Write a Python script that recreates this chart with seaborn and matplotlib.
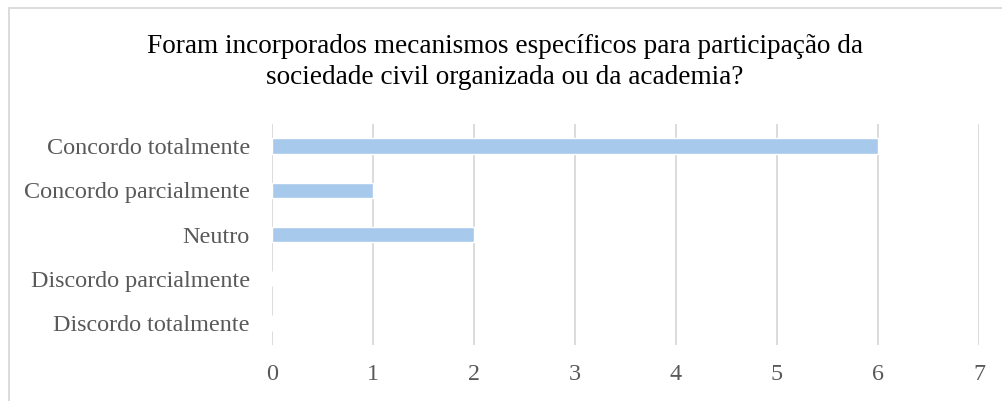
import matplotlib
matplotlib.use("Agg")
import matplotlib.pyplot as plt
import seaborn as sns
import pandas as pd
from matplotlib.patches import Rectangle

categories = ["Concordo totalmente", "Concordo parcialmente", "Neutro",
              "Discordo parcialmente", "Discordo totalmente"]
values = [6, 1, 2, 0, 0]
xticks = [0, 1, 2, 3, 4, 5, 6, 7]
title = ("Foram incorporados mecanismos específicos para participação da\n"
         "sociedade civil organizada ou da academia?")

df = pd.DataFrame({"categoria": categories, "valor": values})

sns.set_theme(style="white")
plt.rcParams['font.family'] = ['Liberation Serif', 'DejaVu Serif']

fig = plt.figure(figsize=(10.03, 4.01), dpi=100)
W, H = 1003, 401
ax = fig.add_axes([272 / W, 1 - 345 / H, (979 - 272) / W, (345 - 124) / H])

sns.barplot(data=df, x="valor", y="categoria", orient="h", color="#A6C9EC",
            saturation=1, width=0.35, ax=ax)

ax.set_xlim(0, 7)
ax.set_xticks(xticks)
ax.set_xticklabels([str(t) for t in xticks])
ax.set_xlabel("")
ax.set_ylabel("")
ax.grid(axis="x", color="#D9D9D9", linewidth=1.3)
ax.set_axisbelow(True)
for s in ax.spines.values():
    s.set_visible(False)
ax.tick_params(axis="both", length=0, labelsize=17.4, colors="#595959")
ax.tick_params(axis="y", pad=16)
ax.tick_params(axis="x", pad=14)

fig.text(0.503, 1 - 62 / H, title, ha="center", va="center", fontsize=19.6,
         color="#000000", linespacing=1.27)

fig.patches.append(Rectangle((9 / W, -0.1), 1.2, 1 - 8 / H + 0.1,
                             transform=fig.transFigure, fill=False,
                             edgecolor="#D9D9D9", linewidth=1.3))

fig.savefig("out.png", dpi=100)
